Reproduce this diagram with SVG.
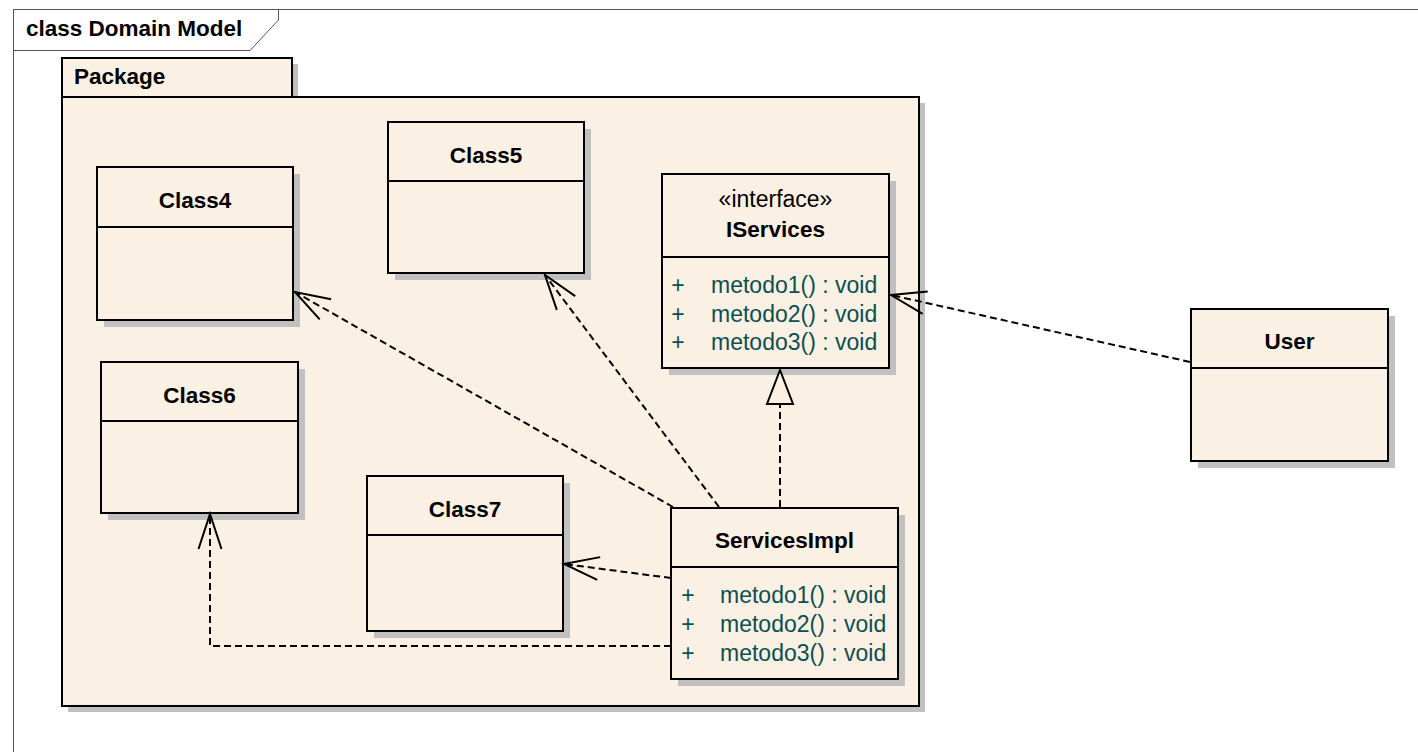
<svg xmlns="http://www.w3.org/2000/svg" width="1418" height="752" viewBox="0 0 1418 752">
<style>
  .frame{fill:#ffffff;stroke:#555555;stroke-width:1}
  .box{fill:#FAF0E3;stroke:#000000;stroke-width:2}
  .shadow{fill:#C0C0C0;stroke:none}
  .div{stroke:#000000;stroke-width:2}
  .name{font-family:"Liberation Sans",Arial,sans-serif;font-size:22.5px;font-weight:bold;fill:#000000;text-anchor:middle}
  .title{font-family:"Liberation Sans",Arial,sans-serif;font-size:22.5px;font-weight:bold;fill:#000000}
  .stereo{font-family:"Liberation Sans",Arial,sans-serif;font-size:23px;fill:#000000;text-anchor:middle}
  .op{font-family:"Liberation Sans",Arial,sans-serif;font-size:23px;fill:#0B4F4F}
  .plus{font-family:"Liberation Sans",Arial,sans-serif;font-size:23px;fill:#0B4F4F;text-anchor:middle}
  .dep{fill:none;stroke:#000000;stroke-width:2;stroke-dasharray:7 4}
</style>
<defs>
  <marker id="open" markerUnits="userSpaceOnUse" orient="auto" refX="0" refY="0" markerWidth="1" markerHeight="1" overflow="visible">
    <path d="M-35,-11.5 L0,0 L-35,11.5" fill="none" stroke="#000000" stroke-width="2"/>
  </marker>
  <marker id="tri" markerUnits="userSpaceOnUse" orient="auto" refX="0" refY="0" markerWidth="1" markerHeight="1" overflow="visible">
    <path d="M0,0 L-34,-13 L-34,13 Z" fill="#FAF0E3" stroke="#000000" stroke-width="2"/>
  </marker>
</defs>

<g id="frame">
  <rect class="frame" x="13.5" y="9.5" width="1420" height="760"/>
  <path d="M13.5,50.5 H250 L278.5,20 V9.5" fill="none" stroke="#555555" stroke-width="1"/>
  <text class="title" x="26" y="36">class Domain Model</text>
</g>

<g id="package">
  <rect class="shadow" x="68" y="64" width="230" height="39"/>
  <rect class="shadow" x="68" y="103" width="857" height="609"/>
  <rect class="box" x="62" y="58" width="230" height="39"/>
  <rect class="box" x="62" y="97" width="857" height="609"/>
  <text class="title" x="74" y="84">Package</text>
</g>

<g id="Class4">
  <rect class="shadow" x="104" y="174" width="196" height="153"/>
  <rect class="box" x="97" y="167" width="196" height="153"/>
  <line class="div" x1="97" y1="227" x2="293" y2="227"/>
  <text class="name" x="195" y="208">Class4</text>
</g>

<g id="Class5">
  <rect class="shadow" x="395" y="129" width="196" height="151"/>
  <rect class="box" x="388" y="122" width="196" height="151"/>
  <line class="div" x1="388" y1="181" x2="584" y2="181"/>
  <text class="name" x="486" y="163">Class5</text>
</g>

<g id="Class6">
  <rect class="shadow" x="108" y="369" width="197" height="151"/>
  <rect class="box" x="101" y="362" width="197" height="151"/>
  <line class="div" x1="101" y1="421" x2="298" y2="421"/>
  <text class="name" x="199.5" y="403">Class6</text>
</g>

<g id="Class7">
  <rect class="shadow" x="374" y="483" width="196" height="155"/>
  <rect class="box" x="367" y="476" width="196" height="155"/>
  <line class="div" x1="367" y1="535" x2="563" y2="535"/>
  <text class="name" x="465" y="517">Class7</text>
</g>

<g id="IServices">
  <rect class="shadow" x="669" y="181" width="227" height="194"/>
  <rect class="box" x="662" y="174" width="227" height="194"/>
  <line class="div" x1="662" y1="257" x2="889" y2="257"/>
  <text class="stereo" x="775.5" y="207">«interface»</text>
  <text class="name" x="775.5" y="237">IServices</text>
  <text class="plus" x="678" y="293">+</text>
  <text class="op" x="711" y="293">metodo1() : void</text>
  <text class="plus" x="678" y="322">+</text>
  <text class="op" x="711" y="322">metodo2() : void</text>
  <text class="plus" x="678" y="350">+</text>
  <text class="op" x="711" y="350">metodo3() : void</text>
</g>

<g id="ServicesImpl">
  <rect class="shadow" x="678" y="515" width="227" height="171"/>
  <rect class="box" x="671" y="508" width="227" height="171"/>
  <line class="div" x1="671" y1="567" x2="898" y2="567"/>
  <text class="name" x="784.5" y="548">ServicesImpl</text>
  <text class="plus" x="688" y="603">+</text>
  <text class="op" x="720" y="603">metodo1() : void</text>
  <text class="plus" x="688" y="632">+</text>
  <text class="op" x="720" y="632">metodo2() : void</text>
  <text class="plus" x="688" y="661">+</text>
  <text class="op" x="720" y="661">metodo3() : void</text>
</g>

<g id="User">
  <rect class="shadow" x="1198" y="316" width="197" height="152"/>
  <rect class="box" x="1191" y="309" width="197" height="152"/>
  <line class="div" x1="1191" y1="368" x2="1388" y2="368"/>
  <text class="name" x="1289.5" y="349">User</text>
</g>

<g id="connectors">
  <path class="dep" d="M673,507 L295,292" marker-end="url(#open)"/>
  <path class="dep" d="M719,507 L545,275" marker-end="url(#open)"/>
  <path class="dep" d="M780,507 L780,370" marker-end="url(#tri)"/>
  <path class="dep" d="M671,578 L564,564" marker-end="url(#open)"/>
  <path class="dep" d="M671,646 L210,646 L210,514" marker-end="url(#open)"/>
  <path class="dep" d="M1190,362 L891,295" marker-end="url(#open)"/>
</g>
</svg>
